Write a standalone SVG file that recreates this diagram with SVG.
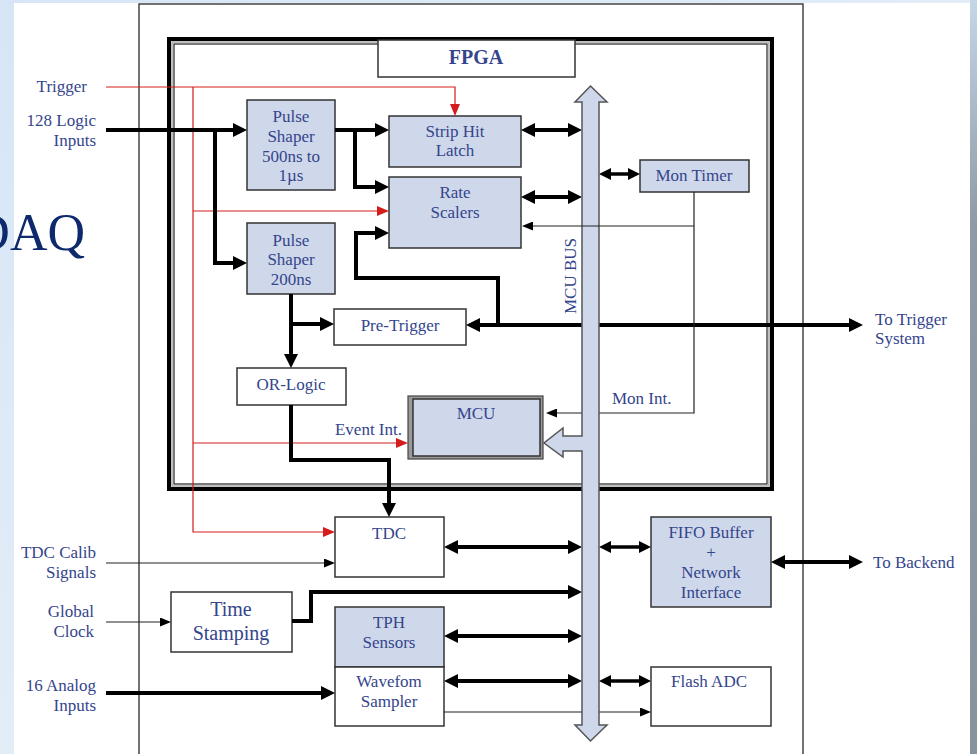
<svg xmlns="http://www.w3.org/2000/svg" width="977" height="754" viewBox="0 0 977 754">
<defs>
<linearGradient id="bg" x1="0" y1="0" x2="1" y2="1">
<stop offset="0" stop-color="#d6e6f6"/>
<stop offset="1" stop-color="#eef4fa"/>
</linearGradient>
<linearGradient id="rs" x1="0" y1="0" x2="0" y2="1">
<stop offset="0" stop-color="#c4d6e8"/>
<stop offset="0.3" stop-color="#8e9aa6"/>
<stop offset="1" stop-color="#86929c"/>
</linearGradient>
<marker id="ta" markerUnits="userSpaceOnUse" markerWidth="15" markerHeight="14" refX="4" refY="7" orient="auto-start-reverse">
<path d="M0,0 L14,7 L0,14 Z" fill="#000"/>
</marker>
<marker id="ts" markerUnits="userSpaceOnUse" markerWidth="13" markerHeight="12" refX="4" refY="6" orient="auto-start-reverse">
<path d="M0,0 L12,6 L0,12 Z" fill="#000"/>
</marker>
<marker id="tn" markerUnits="userSpaceOnUse" markerWidth="12" markerHeight="9" refX="2" refY="4.5" orient="auto">
<path d="M0,0 L11,4.5 L0,9 Z" fill="#000"/>
</marker>
<marker id="rd" markerUnits="userSpaceOnUse" markerWidth="13" markerHeight="10" refX="2" refY="5" orient="auto">
<path d="M0,0 L12,5 L0,10 Z" fill="#d41c1c"/>
</marker>
</defs>
<style>
text{font-family:"Liberation Serif","DejaVu Serif",serif;font-size:17px;fill:#34458c;}
.c{text-anchor:middle;}
.r{text-anchor:end;}
.box{fill:#cfd8ea;stroke:#333;stroke-width:1.5;}
.wbox{fill:#fff;stroke:#333;stroke-width:1.5;}
.thick{fill:none;stroke:#000;stroke-width:4;}
.mid{fill:none;stroke:#000;stroke-width:3.5;}
.thin{fill:none;stroke:#222;stroke-width:1.2;}
.red{fill:none;stroke:#d41c1c;stroke-width:1.2;}
</style>
<!-- background -->
<rect x="0" y="0" width="977" height="754" fill="url(#bg)"/>
<rect x="970" y="0" width="7" height="754" fill="url(#rs)"/>
<rect x="14" y="3" width="956" height="751" fill="#fff"/>
<text x="85" y="250" class="r" style="font-size:52px;fill:#0f2a6c;">DAQ</text>
<!-- board -->
<rect x="139" y="4" width="664" height="770" fill="#fff" stroke="#444" stroke-width="1.5"/>
<!-- FPGA frame -->
<g id="fpga">
<rect x="172" y="42" width="597" height="444" fill="none" stroke="#aaa" stroke-width="1.5"/>
<rect x="169" y="39" width="603" height="450" fill="none" stroke="#000" stroke-width="4"/>
<rect x="174" y="44" width="593" height="440" fill="none" stroke="#222" stroke-width="1.2"/>
<rect x="378" y="40" width="197" height="37" class="wbox"/>
<text x="476" y="64" class="c" style="font-weight:bold;font-size:20px;">FPGA</text>
</g>
<!-- left labels -->
<g id="labels">
<text x="87" y="92" class="r">Trigger</text>
<text x="96" y="126" class="r">128 Logic</text>
<text x="96" y="146" class="r">Inputs</text>
<text x="96" y="558" class="r">TDC Calib</text>
<text x="96" y="578" class="r">Signals</text>
<text x="94" y="617" class="r">Global</text>
<text x="94" y="637" class="r">Clock</text>
<text x="96" y="691" class="r">16 Analog</text>
<text x="96" y="711" class="r">Inputs</text>
<text x="875" y="325">To Trigger</text>
<text x="875" y="344">System</text>
<text x="873" y="568">To Backend</text>
<text x="402" y="435" class="r">Event Int.</text>
<text x="612" y="404">Mon Int.</text>
</g>
<!-- nodes -->
<g id="pulse1"><rect x="247" y="100" width="88" height="90" class="box"/>
<text x="291" y="122" class="c">Pulse</text><text x="291" y="142" class="c">Shaper</text><text x="291" y="162" class="c">500ns to</text><text x="291" y="181" class="c">1µs</text></g>
<g id="pulse2"><rect x="247" y="223" width="88" height="71" class="box"/>
<text x="291" y="246" class="c">Pulse</text><text x="291" y="265" class="c">Shaper</text><text x="291" y="285" class="c">200ns</text></g>
<g id="striphit"><rect x="389" y="116" width="132" height="51" class="box"/>
<text x="455" y="137" class="c">Strip Hit</text><text x="455" y="156" class="c">Latch</text></g>
<g id="ratescalers"><rect x="389" y="177" width="132" height="71" class="box"/>
<text x="455" y="198" class="c">Rate</text><text x="455" y="218" class="c">Scalers</text></g>
<g id="montimer"><rect x="640" y="160" width="109" height="32" class="box"/>
<text x="694" y="181" class="c">Mon Timer</text></g>
<g id="pretrigger"><rect x="334" y="309" width="132" height="36" class="wbox"/>
<text x="400" y="331" class="c">Pre-Trigger</text></g>
<g id="orlogic"><rect x="237" y="368" width="109" height="37" class="wbox"/>
<text x="291" y="390" class="c">OR-Logic</text></g>
<g id="mcu"><rect x="408" y="396" width="135" height="63" fill="#999" stroke="#444" stroke-width="1.2"/>
<rect x="413" y="399" width="127" height="57" class="box"/>
<text x="476" y="419" class="c">MCU</text></g>
<g id="tdc"><rect x="335" y="517" width="109" height="60" class="wbox"/>
<text x="389" y="539" class="c">TDC</text></g>
<g id="fifo"><rect x="651" y="517" width="120" height="90" class="box"/>
<text x="711" y="538" class="c">FIFO Buffer</text><text x="711" y="558" class="c">+</text><text x="711" y="578" class="c">Network</text><text x="711" y="598" class="c">Interface</text></g>
<g id="timestamping"><rect x="171" y="592" width="121" height="60" class="wbox"/>
<text x="231" y="616" class="c" style="font-size:20px;">Time</text><text x="231" y="640" class="c" style="font-size:20px;">Stamping</text></g>
<g id="tph"><rect x="335" y="607" width="109" height="60" class="box"/>
<text x="389" y="628" class="c">TPH</text><text x="389" y="648" class="c">Sensors</text></g>
<g id="waveform"><rect x="335" y="667" width="109" height="59" class="wbox"/>
<text x="389" y="687" class="c">Wavefom</text><text x="389" y="707" class="c">Sampler</text></g>
<g id="flashadc"><rect x="651" y="667" width="120" height="59" class="wbox"/>
<text x="709" y="687" class="c">Flash ADC</text></g>
<!-- connectors -->
<g id="connectors">
<path class="red" d="M106,87 H455 V106" marker-end="url(#rd)"/>
<path class="red" d="M193,87 V532 H325" marker-end="url(#rd)"/>
<path class="red" d="M193,211 H379" marker-end="url(#rd)"/>
<path class="red" d="M193,443 H398" marker-end="url(#rd)"/>
<path class="thick" d="M106,130 H237" marker-end="url(#ta)"/>
<path class="thick" d="M215,130 V263 H237" marker-end="url(#ta)"/>
<path class="thick" d="M335,130 H379" marker-end="url(#ta)"/>
<path class="thick" d="M355,130 V187 H379" marker-end="url(#ta)"/>
<path class="thick" d="M498,325 V278 H356 V233 H379" marker-end="url(#ta)"/>
<path class="thick" d="M476,325 H853" marker-start="url(#ta)" marker-end="url(#ta)"/>
<path class="thick" d="M291,294 V358" marker-end="url(#ta)"/>
<path class="thick" d="M291,324 H324" marker-end="url(#ta)"/>
<path class="thick" d="M291,405 V460 H389 V507" marker-end="url(#ta)"/>
<path class="thick" d="M292,621 H311 V592 H572" marker-end="url(#ta)"/>
<path class="thick" d="M106,693 H325" marker-end="url(#ta)"/>
<path class="thick" d="M531,130 H572" marker-start="url(#ta)" marker-end="url(#ta)"/>
<path class="thick" d="M531,197 H572" marker-start="url(#ta)" marker-end="url(#ta)"/>
<path class="thick" d="M454,547 H572" marker-start="url(#ta)" marker-end="url(#ta)"/>
<path class="thick" d="M454,636 H572" marker-start="url(#ta)" marker-end="url(#ta)"/>
<path class="thick" d="M454,681 H572" marker-start="url(#ta)" marker-end="url(#ta)"/>
<path class="thick" d="M781,562 H853" marker-start="url(#ta)" marker-end="url(#ta)"/>
<path class="mid" d="M607,174 H632" marker-start="url(#ts)" marker-end="url(#ts)"/>
<path class="mid" d="M607,547 H643" marker-start="url(#ts)" marker-end="url(#ts)"/>
<path class="mid" d="M607,681 H643" marker-start="url(#ts)" marker-end="url(#ts)"/>
<path class="thin" d="M694,192 V413 H555" marker-end="url(#tn)"/>
<path class="thin" d="M106,563 H326" marker-end="url(#tn)"/>
<path class="thin" d="M106,622 H162" marker-end="url(#tn)"/>
<path class="thin" d="M444,712 H642" marker-end="url(#tn)"/>
</g>
<!-- MCU bus -->
<g id="mcubus">
<path d="M590.5,86 L607,102 L599,102 L599,725 L607,725 L590.5,741 L575,725 L582,725 L582,451 L563,451 L563,457 L544,443 L563,428 L563,436 L582,436 L582,102 L575,102 Z" fill="#cfd8ea" stroke="#555" stroke-width="1.5" stroke-linejoin="miter"/>
<text x="0" y="0" class="c" transform="translate(576,276) rotate(-90)">MCU BUS</text>
</g>
<g id="connectors2">
<path class="thin" d="M694,226 H531" marker-end="url(#tn)"/>
</g>
</svg>
